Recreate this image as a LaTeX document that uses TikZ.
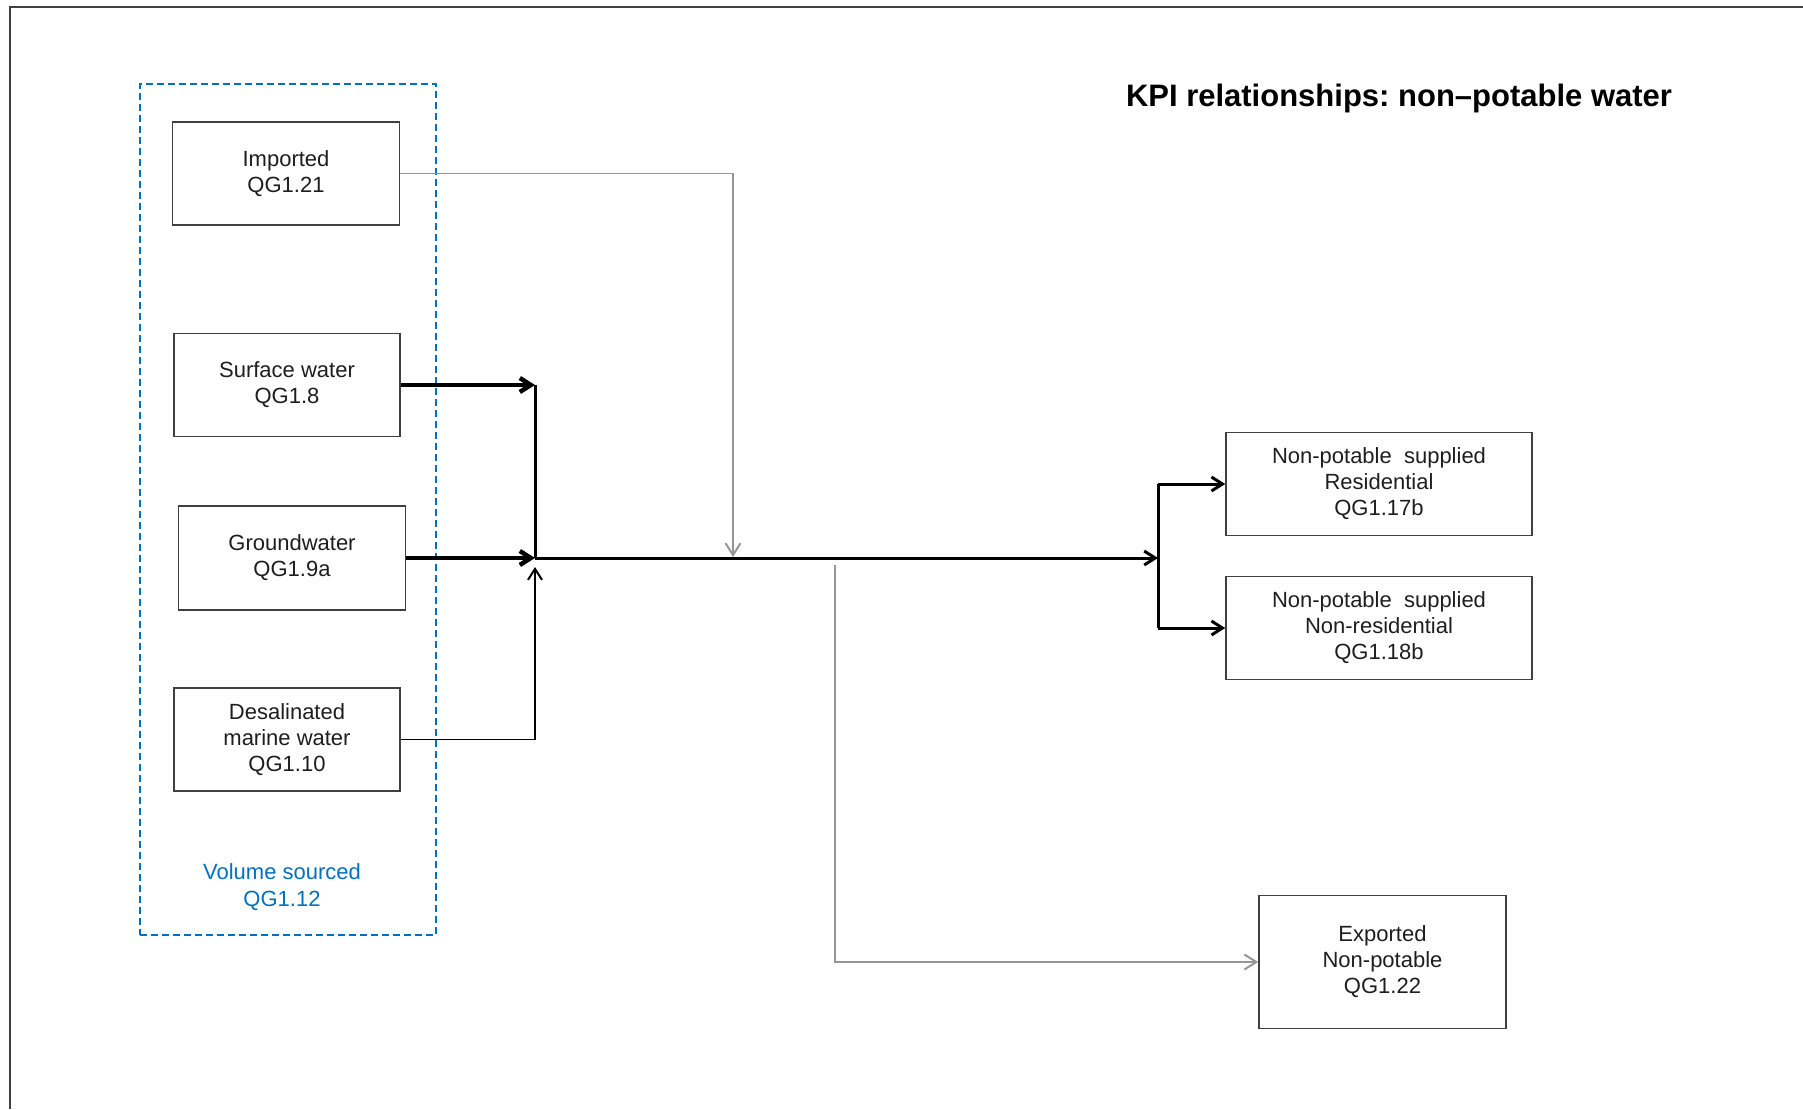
\documentclass[tikz,border=0pt]{standalone}
\usepackage{fontspec}
\setmainfont{Liberation Sans}
\usetikzlibrary{arrows.meta}
\definecolor{srcblue}{RGB}{0,112,192}
\definecolor{boxgray}{RGB}{64,64,64}
\definecolor{textgray}{RGB}{30,30,30}
\definecolor{linegray}{RGB}{150,150,150}
\frenchspacing

\begin{document}
\begin{tikzpicture}[x=1pt,y=-1pt,
    kpibox/.style={rectangle,draw=boxgray,line width=1.5pt,inner sep=0pt,align=center,
        text=textgray,font=\fontsize{22}{26}\selectfont},
    srcgroup/.style={rectangle,draw=srcblue,line width=2.5pt,dash pattern=on 7pt off 4pt,
        minimum width=296pt,minimum height=851pt},
    barb/.tip={Straight Barb[length=11pt,width=14pt]},
    feed/.style={line width=4.5pt,-barb},
    bus/.style={line width=3pt},
    flow/.style={line width=3pt,-barb},
    thinflow/.style={line width=1.5pt,-{Straight Barb[length=11pt,width=14pt,line width=2pt]}},
    grayflow/.style={line width=1.5pt,linegray,-{Straight Barb[length=12pt,width=15pt,line width=2pt]}}]
    \useasboundingbox (0,0) rectangle (1803,1109);
    \draw[boxgray,line width=1.5pt] (10,1109) -- (10,7) -- (1803,7);

    \node[font=\fontsize{31}{36}\selectfont\bfseries] (title) at (1399,98) {KPI relationships: non–potable water};

    \node[srcgroup] (vol) at (288,509.5) {};
    \node[text=srcblue,align=center,font=\fontsize{22}{27}\selectfont] (vollabel) at (282,887) {Volume sourced\\QG1.12};

    \begin{scope}[every node/.style={kpibox}]
        \node[minimum width=227pt,minimum height=103pt] (imp) at (286,173.5) {Imported\\QG1.21};
        \node[minimum width=226pt,minimum height=103pt] (surf) at (287,385) {Surface water\\QG1.8};
        \node[minimum width=227pt,minimum height=104pt] (gw) at (292,558) {Groundwater\\QG1.9a};
        \node[minimum width=226pt,minimum height=103pt] (desal) at (287,739.5) {Desalinated\\marine water\\QG1.10};
        \node[minimum width=306pt,minimum height=103pt] (res) at (1379,484) {Non-potable\ \ supplied\\Residential\\QG1.17b};
        \node[minimum width=306pt,minimum height=103pt] (nonres) at (1379,628) {Non-potable\ \ supplied\\Non-residential\\QG1.18b};
        \node[minimum width=247pt,minimum height=133pt] (exp) at (1382.5,962) {Exported\\Non-potable\\QG1.22};
    \end{scope}

    \coordinate (jn) at (535,558);
    \coordinate (jnin) at (535,567);
    \coordinate (split) at (1158,558);
    \coordinate (tapin) at (733,557);
    \coordinate (tapout) at (835,565);

    \draw[feed] (surf.east) -- (surf.east -| jn);
    \draw[feed] (gw.east) -- (jn);
    \draw[bus] (surf.east -| jn) -- (jn);
    \draw[thinflow] (desal.east) -| (jnin);
    \draw[flow] (jn) -- (split);
    \draw[bus] (split |- res.west) -- (split |- nonres.west);
    \draw[bus,-barb] (split |- res.west) -- (res.west);
    \draw[bus,-barb] (split |- nonres.west) -- (nonres.west);
    \draw[grayflow] (imp.east) -| (tapin);
    \draw[grayflow] (tapout) |- (exp.west);
\end{tikzpicture}
\end{document}
